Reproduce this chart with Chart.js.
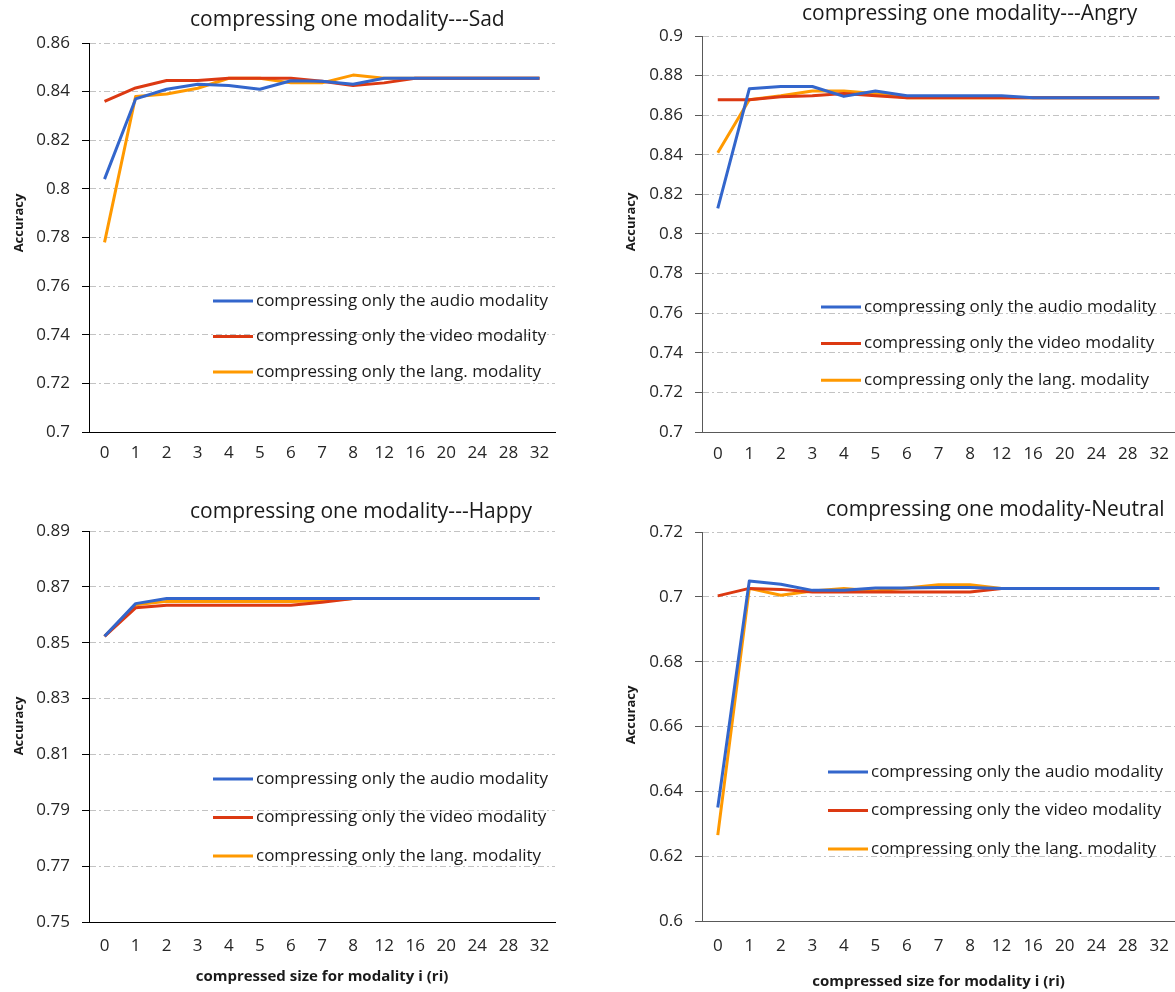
<!DOCTYPE html>
<html>
<head>
<meta charset="utf-8">
<script src="https://cdn.jsdelivr.net/npm/chart.js@4.4.1/dist/chart.umd.min.js"></script>
<style>
  body { margin: 0; background: #fff; overflow: hidden; }
  #wrap { position: relative; width: 1175px; height: 992px; }
  #wrap canvas { position: absolute; }
</style>
</head>
<body>
<div id="wrap">
  <canvas id="sad" width="580" height="496" style="left:0;top:0"></canvas>
  <canvas id="angry" width="595" height="496" style="left:580px;top:0"></canvas>
  <canvas id="happy" width="580" height="496" style="left:0;top:496px"></canvas>
  <canvas id="neutral" width="595" height="496" style="left:580px;top:496px"></canvas>
</div>
<script>
// compressed size r_i on the x axis
const sizes = ['0', '1', '2', '3', '4', '5', '6', '7', '8', '12', '16', '20', '24', '28', '32'];

const seriesNames = [
  'compressing only the audio modality',
  'compressing only the video modality',
  'compressing only the lang. modality'
];
const seriesColors = ['#3366cc', '#dc3912', '#ff9900'];

// accuracy per emotion
const sadAudio = [0.804, 0.837, 0.841, 0.843, 0.8425, 0.841, 0.8445, 0.8443, 0.843, 0.8455, 0.8455, 0.8455, 0.8455, 0.8455, 0.8455];
const sadVideo = [0.836, 0.8415, 0.8446, 0.8446, 0.8455, 0.8455, 0.8455, 0.8443, 0.8425, 0.8436, 0.8455, 0.8455, 0.8455, 0.8455, 0.8455];
const sadLang  = [0.778, 0.838, 0.839, 0.8414, 0.8455, 0.8455, 0.8436, 0.8436, 0.8468, 0.8455, 0.8455, 0.8455, 0.8455, 0.8455, 0.8455];

const angryAudio = [0.813, 0.8733, 0.8745, 0.8745, 0.8695, 0.8722, 0.8698, 0.8698, 0.8698, 0.8698, 0.8688, 0.8688, 0.8688, 0.8688, 0.8688];
const angryVideo = [0.8678, 0.8678, 0.8693, 0.8698, 0.871, 0.8698, 0.8688, 0.8688, 0.8688, 0.8688, 0.8688, 0.8688, 0.8688, 0.8688, 0.8688];
const angryLang  = [0.841, 0.8678, 0.8698, 0.8722, 0.8722, 0.871, 0.8688, 0.8688, 0.8688, 0.8688, 0.8688, 0.8688, 0.8688, 0.8688, 0.8688];

const happyAudio = [0.8523, 0.864, 0.8658, 0.8658, 0.8658, 0.8658, 0.8658, 0.8658, 0.8658, 0.8658, 0.8658, 0.8658, 0.8658, 0.8658, 0.8658];
const happyVideo = [0.8523, 0.8625, 0.8634, 0.8634, 0.8634, 0.8634, 0.8634, 0.8645, 0.8658, 0.8658, 0.8658, 0.8658, 0.8658, 0.8658, 0.8658];
const happyLang  = [0.8523, 0.8636, 0.8648, 0.8648, 0.8648, 0.8648, 0.8648, 0.865, 0.8658, 0.8658, 0.8658, 0.8658, 0.8658, 0.8658, 0.8658];

const neutralAudio = [0.635, 0.7049, 0.7039, 0.702, 0.702, 0.7027, 0.7027, 0.7029, 0.7029, 0.7026, 0.7026, 0.7026, 0.7026, 0.7026, 0.7026];
const neutralVideo = [0.7003, 0.7026, 0.7023, 0.7015, 0.7015, 0.7015, 0.7015, 0.7015, 0.7015, 0.7026, 0.7026, 0.7026, 0.7026, 0.7026, 0.7026];
const neutralLang  = [0.6265, 0.7026, 0.7005, 0.7018, 0.7026, 0.7018, 0.7027, 0.7037, 0.7037, 0.7026, 0.7026, 0.7026, 0.7026, 0.7026, 0.7026];

const FONT = '"Open Sans", sans-serif';
Chart.defaults.font.family = FONT;
Chart.defaults.color = '#262626';

// heading, rotated y caption and the legend sitting inside the plot
const captions = {
  id: 'captions',
  afterDatasetsDraw(chart, args, opts) {
    const ctx = chart.ctx;
    ctx.save();
    ctx.fillStyle = '#1a1a1a';
    ctx.textBaseline = 'middle';

    ctx.font = '21px ' + FONT;
    ctx.textAlign = 'left';
    ctx.fillText(opts.title, opts.titleX, opts.titleY);

    ctx.save();
    ctx.font = 'bold 13px ' + FONT;
    ctx.textAlign = 'center';
    ctx.translate(opts.yCapX, opts.yCapY);
    ctx.rotate(-Math.PI / 2);
    ctx.fillText('Accuracy', 0, 0);
    ctx.restore();

    ctx.font = '17px ' + FONT;
    chart.data.datasets.forEach((ds, i) => {
      const y = opts.legendY + i * opts.legendGap;
      ctx.strokeStyle = ds.borderColor;
      ctx.lineWidth = 3;
      ctx.beginPath();
      ctx.moveTo(opts.legendX, y);
      ctx.lineTo(opts.legendX + 40, y);
      ctx.stroke();
      ctx.fillText(ds.label, opts.legendX + 43, y);
    });
    ctx.restore();
  }
};

function panel(id, o) {
  return new Chart(document.getElementById(id), {
    type: 'line',
    data: {
      labels: sizes,
      datasets: [
        { label: seriesNames[0], data: o.audio, borderColor: seriesColors[0] },
        { label: seriesNames[1], data: o.video, borderColor: seriesColors[1] },
        { label: seriesNames[2], data: o.lang, borderColor: seriesColors[2] }
      ]
    },
    options: {
      responsive: false,
      animation: false,
      layout: { padding: o.pad },
      elements: {
        line: { borderWidth: 3, tension: 0, borderJoinStyle: 'round' },
        point: { radius: 0 }
      },
      plugins: {
        legend: { display: false },
        tooltip: { enabled: false },
        captions: o.cap
      },
      scales: {
        x: {
          offset: true,
          grid: { display: false },
          border: { display: true, color: o.axisColor, width: 1 },
          ticks: { padding: o.tickPad, maxRotation: 0, autoSkip: false, font: { size: 17 } },
          title: {
            display: !!o.xTitle,
            text: 'compressed size for modality i (ri)',
            font: { size: 15, weight: 'bold' },
            color: '#1a1a1a',
            padding: { top: 0, bottom: o.xTitlePad || 0 }
          },
          afterFit: s => {
            s.height = o.xHeight;
            s.paddingLeft = 0;
            s.paddingRight = 0;
          }
        },
        y: {
          min: o.min,
          max: o.max,
          ticks: {
            stepSize: 0.02,
            padding: 12,
            font: { size: 17 },
            callback: v => String(+v.toFixed(2))
          },
          grid: {
            color: '#c3c3c3',
            lineWidth: 1,
            tickLength: 7,
            tickColor: o.axisColor,
            tickBorderDash: [10, 0]
          },
          border: { display: true, color: o.axisColor, width: 1, dash: [6, 3, 2, 3] },
          afterFit: s => { s.width = o.yWidth; }
        }
      }
    },
    plugins: [captions]
  });
}

panel('sad', {
  audio: sadAudio, video: sadVideo, lang: sadLang,
  min: 0.7, max: 0.86, axisColor: '#000',
  pad: { left: 0, right: 25, top: 43, bottom: 0 },
  yWidth: 89, xHeight: 64, tickPad: 3,
  cap: { title: 'compressing one modality---Sad', titleX: 190, titleY: 20, yCapX: 19, yCapY: 223,
         legendX: 213, legendY: 301, legendGap: 35.5 }
});

panel('angry', {
  audio: angryAudio, video: angryVideo, lang: angryLang,
  min: 0.7, max: 0.9, axisColor: '#595959',
  pad: { left: 0, right: 0, top: 36, bottom: 0 },
  yWidth: 122, xHeight: 64, tickPad: 4,
  cap: { title: 'compressing one modality---Angry', titleX: 222, titleY: 14, yCapX: 51, yCapY: 222,
         legendX: 241, legendY: 307, legendGap: 36.6 }
});

panel('happy', {
  audio: happyAudio, video: happyVideo, lang: happyLang,
  min: 0.75, max: 0.89, axisColor: '#000',
  pad: { left: 0, right: 25, top: 35, bottom: 0 },
  yWidth: 89, xHeight: 70, tickPad: 6, xTitle: true, xTitlePad: 6,
  cap: { title: 'compressing one modality---Happy', titleX: 190, titleY: 16, yCapX: 19, yCapY: 230,
         legendX: 213, legendY: 283, legendGap: 38.5 }
});

panel('neutral', {
  audio: neutralAudio, video: neutralVideo, lang: neutralLang,
  min: 0.6, max: 0.72, axisColor: '#595959',
  pad: { left: 0, right: 0, top: 36, bottom: 0 },
  yWidth: 122, xHeight: 71, tickPad: 7, xTitle: true, xTitlePad: 1,
  cap: { title: 'compressing one modality-Neutral', titleX: 246, titleY: 14, yCapX: 51, yCapY: 219,
         legendX: 248, legendY: 276, legendGap: 38.5 }
});
</script>
</body>
</html>
